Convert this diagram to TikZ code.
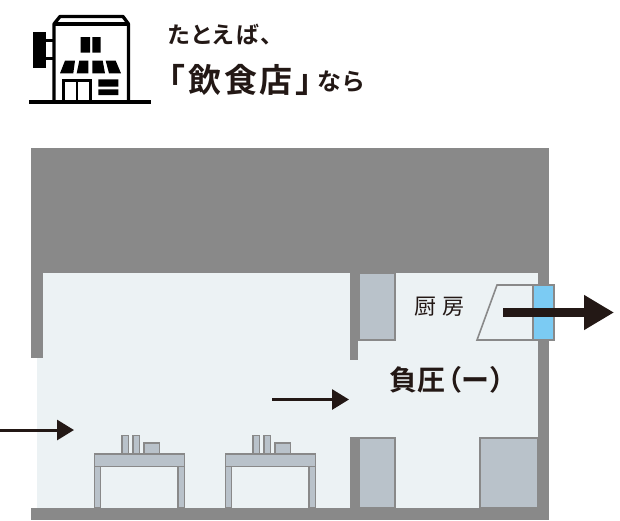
\documentclass[tikz,border=0pt]{standalone}
\usepackage{fontspec}
\usetikzlibrary{arrows.meta}
\newfontfamily\cjk[UprightFont=* Medium,BoldFont=* Bold,RawFeature=+palt]{Noto Sans CJK JP}
\newfontfamily\cjkr{Noto Sans CJK JP}
\definecolor{wall}{HTML}{898989}
\definecolor{room}{HTML}{ECF2F4}
\definecolor{furn}{HTML}{B9C2CA}
\definecolor{duct}{HTML}{7BCBF3}
\definecolor{ink}{HTML}{231815}
\tikzset{
 furniture/.style={fill=furn,draw=wall,line width=1.6pt},
 wallfill/.style={fill=wall,draw=none},
 inkfill/.style={fill=black,draw=none},
 flow/.style={draw=ink,line width=3pt,-{Triangle[length=17pt,width=20pt]}},
 bigflow/.style={draw=ink,line width=9.5pt,-{Triangle[length=30pt,width=33pt]}},
 lab/.style={text=ink,inner sep=0pt,anchor=west},
}
\begin{document}
\begin{tikzpicture}[x=1pt,y=-1pt]
\useasboundingbox (0,0) rectangle (620,520);
\fill[white] (0,0) rectangle (620,520);
% icon
\draw[line width=3.3pt,black] (29,102) -- (151,102);
\draw[line width=3.3pt,black,line join=round] (54,102) -- (54,24) -- (60,16.5) -- (123,16.5) -- (128.5,24) -- (128.5,102);
\draw[line width=3.3pt,black] (54,24) -- (128.5,24);
\fill[inkfill] (33,32) rectangle (46,68);
\draw[line width=2.5pt,black] (46,40.5) -- (54,40.5) (46,58.5) -- (54,58.5);
\fill[inkfill] (80.7,37) rectangle (90,52.5) (92.3,37) rectangle (100.7,52.5);
\fill[inkfill] (65,60.7) -- (75,60.7) -- (73.3,73.3) -- (60,73.3) -- cycle;
\fill[inkfill] (79.3,60.7) -- (88.3,60.7) -- (88.3,73.3) -- (76.7,73.3) -- cycle;
\fill[inkfill] (92.3,60.7) -- (102.7,60.7) -- (105,73.3) -- (92.3,73.3) -- cycle;
\fill[inkfill] (105.7,60.7) -- (115.7,60.7) -- (121,73.3) -- (109,73.3) -- cycle;
\draw[line width=2.8pt,black] (63.5,102) -- (63.5,80.5) -- (90.5,80.5) -- (90.5,102) (77,80.5) -- (77,102);
\fill[inkfill] (98.3,79.3) rectangle (118.3,86.7) (98.3,89.3) rectangle (118.3,95);
% building
\fill[room] (37,273) rectangle (538,508);
\fill[wallfill] (31,148) rectangle (549,273);
\fill[wallfill] (31,273) rectangle (43,358);
\fill[wallfill] (538,273) rectangle (549,520);
\fill[wallfill] (31,508) rectangle (549,520);
\fill[wallfill] (350,273) rectangle (358,360);
\fill[wallfill] (350,437) rectangle (358,508);
% cabinets
\draw[furniture] (359,273) rectangle (395,340);
\draw[furniture] (359,438) rectangle (395,508);
\draw[furniture] (480,438) rectangle (538,508);
% hood
\fill[room] (497,285) -- (533,285) -- (533,340) -- (477,340) -- cycle;
\draw[wall,line width=1.6pt] (533,285) -- (497,285) -- (477,340) -- (533,340);
\draw[fill=duct,draw=wall,line width=1.6pt] (533,285) rectangle (554,340);
% tables
\foreach \x in {0,131}{
 \begin{scope}[xshift=\x pt]
 \draw[furniture] (122,435.5) rectangle (128.5,454);
 \draw[furniture] (133,435.5) rectangle (139.5,454);
 \draw[furniture] (144,443) rectangle (159.5,454);
 \draw[furniture] (94.5,454) rectangle (184.5,466.5);
 \draw[furniture] (94.5,466.5) rectangle (100.5,508);
 \draw[furniture] (178,466.5) rectangle (184.5,508);
 \end{scope}
}
% arrows
\coordinate (a1s) at (0,430);
\coordinate (a1e) at (74,430);
\coordinate (a2s) at (272,399.5);
\coordinate (a2e) at (349,399.5);
\coordinate (a3s) at (503,312.5);
\coordinate (a3e) at (614,312.5);
\draw[flow] (a1s) -- (a1e);
\draw[flow] (a2s) -- (a2e);
\draw[bigflow] (a3s) -- (a3e);
% labels
\node[lab,font=\cjk\bfseries\fontsize{23}{23}\selectfont] (t1) at (168,35) {た\kern2pt と\kern2pt え\kern2pt ば\kern2pt 、};
\node[lab,font=\cjk\bfseries\fontsize{33}{33}\selectfont] (t2) at (168,80) {「\kern4pt 飲\kern2.5pt 食\kern2.5pt 店\kern3pt 」};
\node[lab,font=\cjk\bfseries\fontsize{24}{24}\selectfont] (t3) at (317,82) {な\kern2.5pt ら};
\node[lab,font=\cjkr\fontsize{22}{22}\selectfont] (t4) at (414.5,307) {厨\kern5.5pt 房};
\node[lab,font=\cjk\bfseries\fontsize{28}{28}\selectfont] (t5) at (389,380) {負圧\kern2pt （\kern1pt ー\kern1pt ）};
\end{tikzpicture}
\end{document}
